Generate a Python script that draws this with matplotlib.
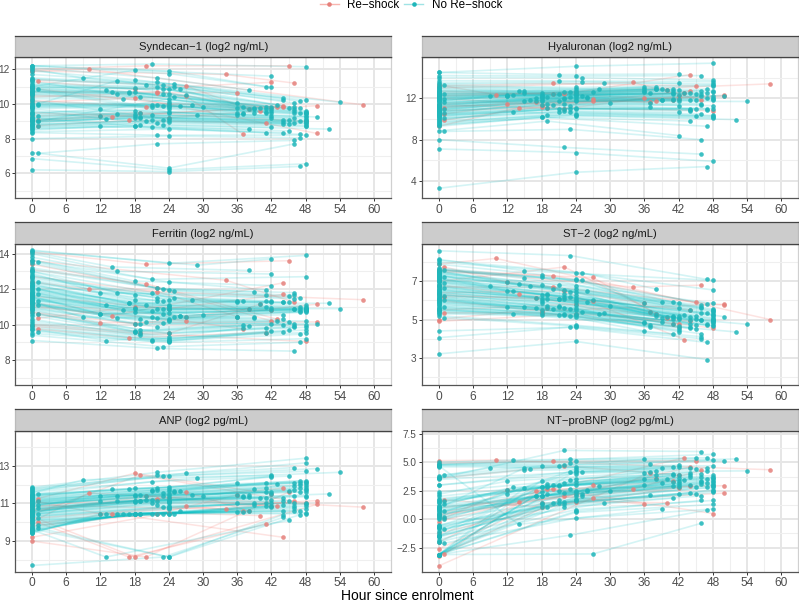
import numpy as np
import matplotlib
matplotlib.use("Agg")
import matplotlib.pyplot as plt
from matplotlib.lines import Line2D

plt.rcParams['font.family'] = ['Liberation Sans', 'DejaVu Sans']

RED, TEAL = '#F8766D', '#00BFC4'
RED_POINT, TEAL_POINT = '#E5807B', '#1FB6BA'

# ---- measurement hours (shared by all panels) ----
mid_hours = [9] + [12]*3 + [13]*2 + [14] + [15]*3 + [16] + [17]*2 + [18]*10 + [19]*5 + [20]*2 + \
            [21]*6 + [22]*7 + [23]*6 + [24]*20 + [25]*3 + [26]*2 + [27, 28, 29, 30]
late_hours = [36]*4 + [37]*3 + [38]*3 + [39]*3 + [40] + [41]*6 + [42]*9 + [43] + [44]*6 + [45]*4 + \
             [46]*9 + [47]*7 + [48]*19 + [50, 52, 54]
base_at_hour1 = [3, 14, 22, 30, 42, 48, 58, 70]

red_mid_hours = [10, 12, 14, 17, 18, 18, 20, 20, 22, 22, 24, 27, 27, 34, 19, 24]
red_late_hours = [58, 50, 44, 41, 50, 42, 45, 43, 42, 36, 40, 38, 37, 46, 48, 44]
red_base_at_hour1 = [1, 3, 5]

# ---- Syndecan-1 ----
syn_base = [6.2,6.85,7.2,7.15,8.0,8.35,8.4,9.2,8.5,8.55,
            8.6,8.65,9.6,8.7,8.75,8.8,8.8,8.85,10.2,8.9,
            8.95,9.0,9.0,9.05,9.05,9.7,9.1,9.15,9.2,9.25,
            9.3,9.35,10.8,9.4,9.45,9.5,10.9,9.75,9.8,9.85,
            9.9,9.9,9.95,10.0,10.0,10.1,11.3,10.3,9.0,10.4,
            10.5,10.55,10.6,10.65,10.7,10.7,10.75,10.8,10.85,10.9,
            10.95,11.0,11.0,11.1,11.1,11.2,11.4,11.45,11.5,11.7,
            10.0,11.9,12.0,12.1,12.2,12.2,11.0,12.2]
syn_mid = [11.5, 9.7,9.3,8.7, 10.8,9.15, 10.7, 11.35,10.6,9.4, 10.3, 10.7,10.65,
           11.95,11.4,10.9,10.7,9.6,9.4,9.3,9.2,8.7,8.72, 10.4,9.25,8.8,9.2,9.5, 11.1,9.0,
           12.3,9.95,9.8,9.35,9.05,8.65, 11.5,11.25,10.95,9.95,8.9,8.2,7.7,
           11.1,10.85,10.6,9.9,9.05,8.8,
           11.9,11.75,10.85,10.6,10.3,10.1,10.0,9.9,9.8,9.7,9.55,9.5,9.2,9.1,8.95,8.55,8.15,6.3,6.2,6.1,
           11.15,10.95,10.4, 10.85,9.9, 10.5, 9.95, 9.35, 9.85]
syn_late = [10.05,9.75,9.5,9.35, 9.85,9.45,9.4, 10.8,9.7,8.55, 9.75,9.45,9.7, 9.75,
            11.0,9.85,9.7,9.55,9.5,8.35, 11.6,10.95,9.85,9.7,9.5,9.3,9.2,8.65,9.6, 9.95,
            10.35,10.2,9.05,8.95,8.85,8.35, 9.75,9.1,8.85,8.45,
            10.05,9.8,9.6,9.45,9.2,8.9,7.9,7.7,9.7, 10.15,9.75,9.5,9.0,8.25,8.05,6.4,
            12.15,10.2,9.6,9.55,9.45,9.4,9.3,9.25,9.15,9.05,9.0,8.95,8.9,8.85,8.75,8.7,8.2,6.55,9.5,
            9.25, 8.55, 10.1]
syn_red_base = [11.9,9.1,9.0,8.75,10.5,11.3,12.0,10.2,10.7,10.4,9.5,11.4,10.1,11.9,9.3,10.9]
syn_red_mid = [12.0,9.3,9.25,9.05,10.35,10.85,12.2,9.85,10.7,10.65,9.2,11.05,10.45,11.7,9.5,10.0]
syn_red_late = [9.95,9.9,9.9,8.9,8.3,11.25,12.2,9.8,9.75,10.65,9.6,9.7,8.25,11.2,9.0,9.85]

# ---- Hyaluronan ----
hya_base = [3.3,7.1,8.0,8.8,8.85,9.3,9.4,9.5,9.6,9.7,
            9.8,9.9,10.0,10.1,10.1,10.2,10.3,10.3,10.4,10.4,
            10.5,10.5,10.6,10.6,10.7,10.7,10.8,10.8,10.9,10.9,
            11.0,11.0,11.1,11.1,11.2,11.2,11.3,11.3,11.4,11.4,
            11.5,11.5,11.6,11.6,11.7,11.7,11.8,11.8,11.9,11.9,
            12.0,12.0,12.1,12.1,12.2,12.2,12.3,12.3,12.4,12.4,
            12.5,12.5,12.6,12.7,12.7,12.8,12.9,13.0,13.1,13.2,
            13.3,13.4,13.5,13.7,14.0,14.2,14.5,14.5]
hya_mid = [12.2, 12.3,12.2,12.25, 12.3,10.65, 12.75, 12.7,12.5,11.75, 11.85, 12.0,11.7,
           12.5,12.35,12.2,12.1,12.0,11.8,11.7,11.4,10.2,10.15, 12.1,11.05,10.4,9.8,11.5, 12.4,11.35,
           14.3,13.7,12.45,11.7,11.0,10.7, 12.6,12.0,11.9,11.5,11.0,10.8,7.25,
           12.65,12.1,11.25,11.0,10.65,9.0,
           15.1,14.15,13.05,12.9,12.75,12.6,12.5,12.4,12.3,12.2,12.0,11.8,11.7,11.1,11.0,10.5,10.4,10.3,6.75,4.85,
           14.0,13.6,12.25, 12.1,12.05, 12.65, 12.9, 13.45, 11.55]
hya_late = [13.1,12.9,12.7,12.6, 12.5,11.55,11.15, 13.1,12.95,12.9, 12.9,11.85,11.8, 12.85,
            12.9,12.7,12.5,12.4,11.9,11.8, 14.35,13.45,12.85,12.3,11.9,11.7,11.3,10.65,8.4, 12.5,
            12.5,11.8,11.0,10.9,10.8,9.8, 12.4,11.85,11.0,10.3,
            14.2,12.75,12.4,12.2,11.5,11.4,10.5,8.0,6.6, 12.9,12.5,12.0,11.0,10.9,9.3,5.4,
            15.4,13.75,13.6,13.4,13.3,13.2,12.75,12.2,12.05,11.9,11.8,11.3,11.0,10.35,10.3,10.2,10.1,5.9,12.6,
            12.25, 9.95, 11.7]
hya_red_base = [13.3,11.1,9.3,10.5,12.0,9.9,13.2,12.7,12.5,11.4,12.2,11.2,11.5,13.0,10.8,12.3]
hya_red_mid = [12.35,11.5,11.1,11.6,11.4,11.2,13.45,12.4,12.4,11.0,12.5,11.7,11.9,13.55,11.1,12.6]
hya_red_late = [13.4,12.2,12.7,11.8,12.3,12.2,13.2,12.5,11.9,12.0,12.8,11.7,11.6,11.8,10.8,14.3]

# ---- Ferritin ----
fer_base = [9.1,9.4,9.5,9.6,9.7,9.75,9.8,9.9,10.0,10.1,
            10.2,10.3,10.5,10.6,10.6,10.7,10.8,10.85,10.9,10.95,
            11.0,11.05,11.1,11.1,11.15,11.2,11.2,11.25,11.3,11.3,
            11.35,11.4,11.4,11.45,11.5,11.5,11.55,11.6,11.6,11.65,
            11.7,11.7,11.75,11.8,11.8,11.85,11.9,11.95,12.0,12.0,
            12.05,12.1,12.15,12.2,12.25,12.3,12.35,12.4,12.4,12.5,
            12.6,12.7,12.75,12.8,12.9,13.0,13.0,13.1,13.2,13.45,
            13.5,13.6,13.65,13.8,14.0,14.1,14.15,14.2]
fer_mid = [10.4, 11.8,10.6,10.6, 11.1,9.1, 13.25, 13.0,11.8,10.35, 10.8, 11.2,11.2,
           12.45,11.65,11.4,10.95,10.85,10.7,10.05,9.65,9.6,9.6, 10.3,10.05,9.7,9.5,9.4, 11.1,10.15,
           12.55,11.8,10.75,10.45,9.15,9.05, 12.05,11.5,11.3,10.85,10.35,9.85,8.65,
           12.0,11.3,10.9,10.6,10.1,8.75,
           13.45,12.4,11.95,11.4,11.1,11.05,11.0,10.9,10.85,10.65,10.3,10.25,10.2,9.3,9.2,9.15,9.1,9.05,9.0,9.5,
           11.9,11.5,10.4, 10.5,10.5, 10.4, 11.4, 13.35, 10.55]
fer_late = [11.3,10.45,10.4,11.25, 11.35,9.95,9.8, 13.05,9.9,10.9, 11.85,10.4,10.35, 11.15,
            11.95,11.65,11.35,11.0,9.8,9.55, 13.7,12.85,12.2,11.3,10.95,10.8,10.05,9.65,11.25, 10.2,
            11.25,10.55,10.3,10.0,9.6,11.25, 11.6,11.25,10.15,9.7,
            11.8,11.65,11.45,10.9,10.85,10.05,9.9,9.85,8.5, 11.5,11.0,10.85,10.75,10.7,9.45,9.0,
            13.9,12.7,11.1,11.0,10.95,10.9,10.85,10.8,10.75,10.7,10.2,10.0,9.85,9.7,9.55,9.2,10.9,10.8,10.85,
            10.05, 11.2, 10.9]
fer_red_base = [12.4,10.6,11.1,9.75,10.7,10.35,14.1,13.1,13.4,12.7,10.0,11.2,11.0,13.6,9.9,11.6]
fer_red_mid = [12.0,10.1,10.5,9.25,10.05,11.0,13.4,12.3,12.05,11.85,9.5,10.45,10.2,12.5,9.5,10.9]
fer_red_late = [11.4,10.15,12.35,9.55,11.15,10.8,13.6,10.3,10.2,10.45,11.15,10.9,9.75,11.25,9.05,11.7]

# ---- ST-2 ----
st2_base = [3.2,4.05,4.4,5.1,5.2,5.3,5.35,5.4,5.45,5.5,
            5.5,5.55,5.6,5.6,5.65,5.7,5.75,5.8,5.85,5.9,
            5.9,5.95,6.0,6.0,6.05,6.1,6.1,6.15,6.2,6.2,
            6.25,6.3,6.3,6.35,6.4,6.4,6.45,6.5,6.5,6.55,
            6.6,6.6,6.65,6.7,6.75,6.75,6.8,6.85,6.9,6.95,
            7.0,7.0,7.05,7.1,7.1,7.15,7.2,7.2,7.25,7.3,
            7.3,7.35,7.4,7.4,7.45,7.5,7.5,7.55,7.55,7.6,
            7.6,7.65,7.7,7.9,8.0,8.1,8.15,8.6]
st2_mid = [6.75, 6.95,6.5,5.65, 6.5,5.3, 6.85, 7.55,7.15,5.65, 6.75, 5.6,6.15,
           7.35,7.2,6.8,6.3,6.1,5.95,5.85,5.5,5.35,5.25, 6.35,6.05,5.6,5.7,6.3, 6.6,5.55,
           6.8,6.1,5.7,5.65,5.25,6.1, 6.55,6.35,6.05,5.6,5.3,5.25,6.2,
           8.35,6.45,6.2,5.55,5.2,4.6,
           7.45,7.1,7.05,6.75,6.6,6.45,6.3,6.15,6.0,5.9,5.75,5.6,5.5,5.3,5.25,5.15,4.7,4.65,4.6,3.85,
           7.45,7.05,5.4, 6.5,5.9, 6.0, 5.3, 5.35, 5.7]
st2_late = [5.85,4.85,4.4,4.8, 5.4,4.7,4.6, 6.6,5.3,5.2, 5.9,5.1,4.85, 5.15,
            5.9,5.2,5.15,5.05,4.75,4.25, 5.85,5.6,5.2,5.1,5.05,4.65,4.45,4.35,4.55, 5.25,
            5.5,5.15,4.95,4.75,4.6,4.55, 5.2,5.05,4.7,4.5,
            5.75,5.65,5.35,5.0,4.95,4.25,4.1,4.0,5.6, 7.1,5.8,5.35,4.75,4.7,3.8,2.9,
            7.05,6.55,5.85,5.55,5.5,5.4,5.3,5.2,5.1,5.05,5.0,4.95,4.9,4.85,4.8,4.7,4.65,5.25,5.45,
            5.15, 4.35, 4.75]
st2_red_base = [7.9,7.75,6.8,6.2,6.0,5.35,7.6,6.7,7.0,6.4,5.5,7.5,6.3,7.6,5.0,4.9]
st2_red_mid = [8.2,6.95,6.35,6.15,5.45,5.35,7.3,6.7,7.75,6.5,5.8,7.2,5.95,6.7,5.6,5.3]
st2_red_late = [5.0,5.75,5.5,4.75,5.8,4.6,5.9,3.95,4.75,5.85,5.1,5.3,5.4,6.8,4.55,4.9]

# ---- ANP ----
anp_base = [9.6,7.7,9.65,9.7,9.4,9.45,9.5,9.5,9.55,9.6,
            9.65,9.7,9.75,9.8,9.85,9.9,9.95,10.0,10.05,10.1,
            10.1,10.15,10.2,10.25,10.3,10.3,10.35,10.4,10.4,10.45,
            10.45,10.5,10.5,10.5,10.55,10.55,10.6,10.6,10.65,10.65,
            10.7,10.7,10.75,10.8,10.8,10.85,10.85,10.9,10.9,10.95,
            10.95,11.0,11.0,11.05,11.05,11.1,11.1,11.15,11.15,11.2,
            11.2,11.25,11.3,11.3,11.35,11.4,11.4,11.45,11.45,11.5,
            11.5,11.55,11.6,11.65,11.7,11.75,11.8,11.85]
anp_mid = [12.25, 11.4,11.1,10.45, 10.45,8.15, 11.75, 11.4,11.1,10.45, 10.45, 11.75,10.45,
           11.8,11.45,11.4,11.15,11.1,11.05,10.45,10.45,10.45,10.45, 11.45,11.15,11.1,10.45,10.45, 11.4,11.2,
           12.15,11.7,11.65,11.2,10.45,11.0, 12.65,12.5,11.8,11.7,11.1,10.9,10.45,
           12.45,11.55,11.4,10.8,10.45,8.15,
           12.45,11.85,11.75,11.65,11.5,11.4,11.3,11.2,11.15,11.1,11.05,11.0,10.85,10.8,10.75,10.7,10.45,10.45,8.15,8.15,
           11.65,11.6,10.45, 11.65,10.6, 12.6, 11.45, 12.35, 11.4]
anp_late = [12.1,11.45,11.0,10.55, 11.4,11.35,10.55, 11.45,11.35,10.6, 11.75,11.0,10.9, 11.3,
            12.1,11.8,11.6,11.3,11.0,10.85, 12.5,12.45,12.4,11.6,11.5,11.2,11.0,10.85,10.8, 12.05,
            11.3,11.1,10.9,10.6,10.4,10.25, 12.45,11.65,11.15,10.1,
            12.9,12.1,11.9,11.4,11.0,10.85,10.75,10.6,11.7, 12.2,12.1,11.95,11.8,11.6,10.6,10.4,
            13.4,13.15,12.7,12.2,12.1,12.0,11.85,11.75,11.7,11.6,11.4,11.35,11.0,10.95,10.85,10.7,10.5,10.45,12.15,
            12.85, 11.5, 12.65]
anp_red_base = [10.0,11.1,9.9,10.0,10.3,11.25,9.0,10.8,10.6,9.8,9.2,10.6,10.2,10.9,10.4,10.7]
anp_red_mid = [11.55,10.45,10.45,8.15,8.15,12.6,8.15,11.4,11.25,10.45,10.5,11.6,10.85,10.7,12.5,11.3]
anp_red_late = [10.8,11.15,9.2,9.9,10.95,11.5,11.6,10.85,10.85,11.45,10.35,10.6,10.6,11.1,11.0,11.8]

# ---- NT-proBNP ----
bnp_base = [-3.1,-3.1,4.7,-2.1,-3.1,-3.1,-2.0,-1.8,-1.6,-1.5,
            -3.1,-3.1,-1.4,-1.0,-0.9,-0.8,-0.7,-0.6,-3.1,-0.5,
            0.0,0.1,0.2,-3.1,0.3,0.4,0.5,0.6,-3.1,0.7,
            0.7,0.8,-3.1,0.9,-2.0,1.0,1.0,-1.5,1.1,1.2,
            1.2,-3.1,1.3,1.4,-1.2,1.5,-0.8,1.6,1.6,-3.1,
            1.7,1.8,-1.5,2.0,-0.6,2.2,-3.1,2.4,0.0,3.0,
            3.0,0.5,3.5,-3.1,3.6,0.2,3.7,3.8,1.0,4.6,
            3.9,4.7,4.75,4.8,4.85,5.0,4.8,3.6]
bnp_mid = [4.5, 3.35,2.2,2.6, 5.2,2.8, -0.45, 4.5,4.3,2.75, 4.45, 2.05,2.0,
           4.7,3.4,2.85,2.8,2.4,2.05,2.0,1.4,1.3,1.1, 3.1,2.95,2.85,2.2,1.1, 3.0,1.4,
           4.7,3.0,2.95,2.45,1.65,1.4, 6.05,4.8,3.2,2.3,1.55,1.3,1.05,
           5.25,4.95,4.15,3.45,2.65,-1.4,
           5.1,4.6,4.4,4.25,4.15,4.0,3.5,3.3,3.05,2.5,2.4,2.2,2.0,1.7,1.6,0.85,0.7,0.6,0.1,1.8,
           4.15,2.25,2.05, 2.55,2.5, -3.05, 2.9, 1.4, 2.5]
bnp_late = [5.25,4.1,3.5,3.0, 4.85,4.15,2.1, 4.25,3.9,3.5, 4.5,0.9,3.2, 3.5,
            4.6,4.0,3.9,3.3,2.9,1.85, 4.75,4.6,3.85,3.6,3.4,3.2,3.0,2.25,2.8, 3.45,
            4.5,4.1,3.9,3.75,2.3,3.0, 5.35,4.4,2.8,2.2,
            5.95,4.0,3.7,3.4,3.1,2.05,1.65,-0.35,3.25, 5.4,4.5,4.2,3.5,3.2,2.8,0.8,
            5.7,5.2,4.7,3.85,3.7,3.55,3.4,3.25,3.1,2.95,2.8,2.6,2.5,2.35,1.65,1.3,0.9,3.0,3.65,
            5.15, 5.3, 4.25]
bnp_red_base = [5.15,0.1,-0.2,-3.05,-2.6,1.7,4.9,0.5,3.6,0.3,-1.2,-3.2,-4.1,1.0,-2.0,0.4]
bnp_red_mid = [5.2,2.55,1.55,2.45,1.4,1.05,5.1,2.7,4.7,2.0,1.55,3.0,1.9,2.65,2.7,2.2]
bnp_red_late = [4.35,2.95,2.9,3.35,2.3,2.75,5.15,5.4,3.9,1.3,1.45,3.6,4.1,4.3,0.5,4.6]

titles = ['Syndecan\u22121 (log2 ng/mL)', 'Hyaluronan (log2 ng/mL)', 'Ferritin (log2 ng/mL)',
          'ST\u22122 (log2 ng/mL)', 'ANP (log2 pg/mL)', 'NT\u2212proBNP (log2 pg/mL)']
y_major = [[6, 8, 10, 12], [4, 8, 12], [8, 10, 12, 14], [3, 5, 7], [9, 11, 13],
           [-2.5, 0, 2.5, 5, 7.5]]
y_minor = [[5, 7, 9, 11], [6, 10, 14], [7, 9, 11, 13], [2, 4, 6, 8], [8, 10, 12, 14],
           [-1.25, 1.25, 3.75, 6.25]]
y_labels = [['6', '8', '10', '12'], ['4', '8', '12'], ['8', '10', '12', '14'], ['3', '5', '7'],
            ['9', '11', '13'], ['\u22122.5', '0.0', '2.5', '5.0', '7.5']]
y_lims = [(4.56, 12.69), (2.33, 15.97), (6.59, 14.56), (1.57, 8.97), (7.37, 14.86), (-4.61, 7.78)]
panel_data = [(syn_base, syn_mid, syn_late, syn_red_base, syn_red_mid, syn_red_late),
              (hya_base, hya_mid, hya_late, hya_red_base, hya_red_mid, hya_red_late),
              (fer_base, fer_mid, fer_late, fer_red_base, fer_red_mid, fer_red_late),
              (st2_base, st2_mid, st2_late, st2_red_base, st2_red_mid, st2_red_late),
              (anp_base, anp_mid, anp_late, anp_red_base, anp_red_mid, anp_red_late),
              (bnp_base, bnp_mid, bnp_late, bnp_red_base, bnp_red_mid, bnp_red_late)]

W, H = 799, 603
fig = plt.figure(figsize=(W/100, H/100), dpi=100)

col_px = [(15.4, 391.0), (422.3, 798.3)]
row_px = [(36.0, 57.3, 198.3), (222.3, 243.7, 385.0), (409.0, 430.7, 571.7)]
xlim = (-2.88, 62.95)


def make_axes(x0, x1, ytop, ybot):
    return fig.add_axes([x0/W, 1-ybot/H, (x1-x0)/W, (ybot-ytop)/H])


for i, (vals, title) in enumerate(zip(panel_data, titles)):
    c, r = i % 2, i // 2
    x0, x1 = col_px[c]
    stop, ptop, pbot = row_px[r]
    ax = make_axes(x0, x1, ptop, pbot)
    ax.set_xlim(*xlim)
    ax.set_ylim(*y_lims[i])
    ax.set_xticks(range(0, 61, 6))
    ax.set_xticks(range(3, 61, 6), minor=True)
    ax.set_yticks(y_major[i])
    ax.set_yticklabels(y_labels[i])
    ax.set_yticks(y_minor[i], minor=True)
    ax.grid(True, which='major', color='#E6E6E6', lw=1.4)
    ax.grid(True, which='minor', color='#EFEFEF', lw=0.8)
    ax.set_axisbelow(True)
    ax.tick_params(axis='x', which='major', labelsize=8.6, labelcolor='#4D4D4D', color='#333333',
                   length=2.5, width=0.7, pad=1.5)
    ax.tick_params(axis='y', which='major', labelsize=7.2, labelcolor='#4D4D4D', color='#333333',
                   length=2.5, width=0.7, pad=1.5)
    ax.tick_params(which='minor', length=0)
    for s in ax.spines.values():
        s.set_color('#555555')
        s.set_linewidth(0.9)
    ax.spines['right'].set_color('#D0D0D0')

    base, mid, late, rbase, rmid, rlate = [np.asarray(v, float) for v in vals]
    mid_order = np.argsort(mid, kind='stable')
    late_order = np.argsort(late, kind='stable')
    base_h = np.zeros(len(base))
    base_h[base_at_hour1] = 1
    mh = np.asarray(mid_hours, float)[mid_order]
    lh = np.asarray(late_hours, float)[late_order]
    tx = np.column_stack([base_h, mh, lh])
    ty = np.column_stack([base, mid[mid_order], late[late_order]])

    red_h = np.zeros(len(rbase))
    red_h[red_base_at_hour1] = 1
    rx = np.column_stack([red_h, red_mid_hours, red_late_hours])
    ry = np.column_stack([rbase, rmid, rlate])

    ax.plot(rx.T, ry.T, color=RED, alpha=0.2, lw=1.1, zorder=2)
    ax.plot(tx.T, ty.T, color=TEAL, alpha=0.17, lw=1.2, zorder=2)
    ax.scatter(rx.ravel(), ry.ravel(), s=11, color=RED_POINT, alpha=0.85, linewidths=0, zorder=3)
    ax.scatter(tx.ravel(), ty.ravel(), s=11, color=TEAL_POINT, alpha=0.85, linewidths=0, zorder=4)

    sax = make_axes(x0, x1, stop, ptop)
    sax.set_facecolor('#CCCCCC')
    sax.set_xticks([])
    sax.set_yticks([])
    for s in sax.spines.values():
        s.set_color('#444444')
        s.set_linewidth(0.9)
    sax.spines['left'].set_color('#BBBBBB')
    sax.spines['right'].set_color('#BBBBBB')
    sax.text(0.5, 0.47, title, transform=sax.transAxes, ha='center', va='center',
             fontsize=8.1, color='#1A1A1A')

fig.text(407.5/W, 1-595.5/H, 'Hour since enrolment', ha='center', va='center',
         fontsize=10, color='black')

handles = [Line2D([], [], color='#F8B5AF', lw=1.0, marker='o', ms=3.3, mfc=RED_POINT, mec='none',
                  label='Re\u2212shock'),
           Line2D([], [], color='#9FE3E5', lw=1.0, marker='o', ms=3.3, mfc=TEAL_POINT, mec='none',
                  label='No Re\u2212shock')]
fig.legend(handles=handles, loc='center', bbox_to_anchor=(411/W, 1-5/H), ncol=2, frameon=False,
           fontsize=8.4, handlelength=1.6, columnspacing=0.4, handletextpad=0.75, borderpad=0,
           borderaxespad=0)

fig.savefig('out.png', dpi=100)
